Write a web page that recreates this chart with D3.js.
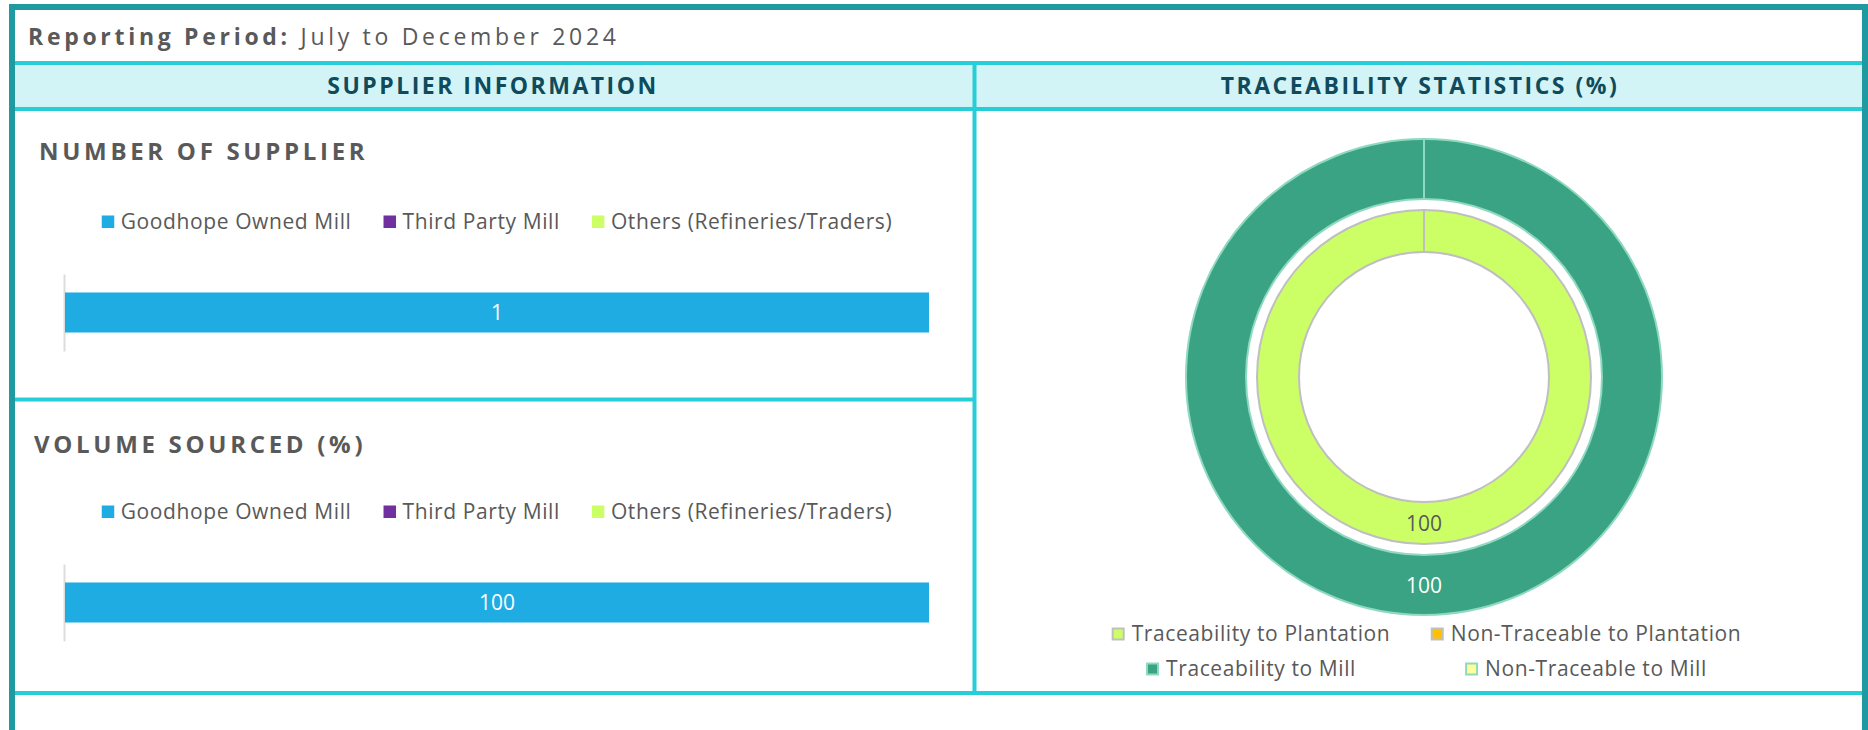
<!DOCTYPE html>
<html>
<head>
<meta charset="utf-8">
<script src="https://cdn.jsdelivr.net/npm/d3@7"></script>
<style>
  body { margin: 0; background: #fff; }
  svg { display: block; }
</style>
</head>
<body>
<div id="chart"></div>
<script>
// data
const reportingLabel = "Reporting Period:";
const reportingPeriod = "July to December 2024";
const sectionTitles = ["SUPPLIER INFORMATION", "TRACEABILITY STATISTICS (%)"];

const supplierCategories = ["Goodhope Owned Mill", "Third Party Mill", "Others (Refineries/Traders)"];
const supplierColors = ["#1eace2", "#7030a0", "#ccff66"];
const numberOfSupplier = [1, 0, 0];
const volumeSourced = [100, 0, 0];

const plantationLabels = ["Traceability to Plantation", "Non-Traceable to Plantation"];
const plantationValues = [100, 0];
const plantationColors = ["#ccff66", "#ffc000"];
const millLabels = ["Traceability to Mill", "Non-Traceable to Mill"];
const millValues = [100, 0];
const millColors = ["#3aa384", "#ffff99"];

const W = 1868, H = 730;
const cyan = "#27cdd7", textGray = "#595959";
const font = "'Open Sans', sans-serif";
const legendFont = "21px", legendSpacing = "0.6px";

const svg = d3.select("#chart")
  .append("svg")
    .attr("width", W)
    .attr("height", H)
    .style("font-family", font);

// frame and section lines
svg.append("rect")
  .attr("x", 15).attr("y", 65).attr("width", 1847).attr("height", 42)
  .attr("fill", "#d2f4f6");

const lines = [
  [15, 63, 1862, 63],
  [15, 109, 1862, 109],
  [974.5, 61, 974.5, 695],
  [15, 399.5, 974, 399.5],
  [15, 693, 1862, 693]
];
svg.selectAll("line.frame")
  .data(lines)
  .join("line")
    .attr("class", "frame")
    .attr("x1", d => d[0]).attr("y1", d => d[1])
    .attr("x2", d => d[2]).attr("y2", d => d[3])
    .attr("stroke", cyan)
    .attr("stroke-width", 4);

svg.append("rect")
  .attr("x", 12).attr("y", 7).attr("width", 1853).attr("height", 800)
  .attr("fill", "none")
  .attr("stroke", "#1e9aa0")
  .attr("stroke-width", 6);

// reporting period
const rp = svg.append("text")
  .attr("x", 28).attr("y", 45)
  .style("font-size", "23px")
  .style("letter-spacing", "3.7px")
  .attr("fill", textGray);
rp.append("tspan").style("font-weight", 700).text(reportingLabel);
rp.append("tspan").text(" " + reportingPeriod);

// section headers
svg.selectAll("text.section")
  .data(sectionTitles)
  .join("text")
    .attr("class", "section")
    .attr("x", (d, i) => i === 0 ? 493 : 1420)
    .attr("y", 94)
    .attr("text-anchor", "middle")
    .style("font-size", "23px")
    .style("font-weight", 700)
    .style("letter-spacing", "2.5px")
    .attr("fill", "#0f4b5c")
    .text(d => d);

// legend row laid out left to right, centred on cx
function legendRow(g, labels, fills, cx, y, gap) {
  const items = g.selectAll(null)
    .data(labels)
    .join("g");
  items.append("rect")
    .attr("width", 12.5).attr("height", 12.5)
    .attr("y", -13)
    .attr("fill", (d, i) => fills[i]);
  items.append("text")
    .attr("x", 19)
    .style("font-size", legendFont)
    .style("letter-spacing", legendSpacing)
    .attr("fill", textGray)
    .text(d => d);
  const widths = [];
  items.each(function() { widths.push(19 + d3.select(this).select("text").node().getComputedTextLength()); });
  const total = d3.sum(widths) + gap * (widths.length - 1);
  let xPos = cx - total / 2;
  items.attr("transform", (d, i) => {
    const t = `translate(${xPos},${y})`;
    xPos += widths[i] + gap;
    return t;
  });
}

// horizontal stacked bar panel
function barPanel(top, title, titleX, titleY, values) {
  const g = svg.append("g");

  g.append("text")
    .attr("x", titleX).attr("y", titleY)
    .style("font-size", "24px")
    .style("font-weight", 700)
    .style("letter-spacing", "3.7px")
    .attr("fill", textGray)
    .text(title);

  const row = {};
  supplierCategories.forEach((c, i) => row[c] = values[i]);
  const series = d3.stack().keys(supplierCategories)([row]);

  const x = d3.scaleLinear()
    .domain([0, d3.sum(values)])
    .range([65, 929]);
  const y = d3.scaleBand()
    .domain(["all"])
    .range([top + 163, top + 240])
    .padding(0.316);

  legendRow(g, supplierCategories, supplierColors, (x.range()[0] + x.range()[1]) / 2, top + 117.5, 32);

  g.append("g")
    .attr("transform", `translate(${x(0) - 1},0)`)
    .call(d3.axisLeft(y).tickSize(0).tickFormat(""))
    .call(a => a.select(".domain").attr("stroke", "#dcdcdc").attr("stroke-width", 2));

  g.selectAll("rect.bar")
    .data(series)
    .join("rect")
      .attr("class", "bar")
      .attr("x", d => x(d[0][0]))
      .attr("width", d => x(d[0][1]) - x(d[0][0]))
      .attr("y", y("all"))
      .attr("height", y.bandwidth())
      .attr("fill", (d, i) => supplierColors[i]);

  g.selectAll("text.val")
    .data(series.filter(s => s[0][1] - s[0][0] > 0))
    .join("text")
      .attr("class", "val")
      .attr("x", d => (x(d[0][0]) + x(d[0][1])) / 2)
      .attr("y", y("all") + y.bandwidth() / 2 + 7.5)
      .attr("text-anchor", "middle")
      .style("font-size", "21px")
      .attr("fill", "#fff")
      .text(d => d[0][1] - d[0][0]);
}

barPanel(111, "NUMBER OF SUPPLIER", 39, 160, numberOfSupplier);
barPanel(401, "VOLUME SOURCED (%)", 34, 453, volumeSourced);

// traceability doughnut
const cx = 1424, cy = 377;
const donut = svg.append("g").attr("transform", `translate(${cx},${cy})`);
const pie = d3.pie().sort(null).value(d => d);

const rings = [
  {values: millValues, colors: millColors, stroke: "#8ed9bf", r0: 178, r1: 238, labelFill: "#fff"},
  {values: plantationValues, colors: plantationColors, stroke: "#bfbfbf", r0: 125, r1: 167, labelFill: textGray}
];

rings.forEach(ring => {
  const arc = d3.arc().innerRadius(ring.r0).outerRadius(ring.r1);
  const arcs = pie(ring.values);
  donut.append("g")
    .selectAll("path")
    .data(arcs)
    .join("path")
      .attr("d", arc)
      .attr("fill", (d, i) => ring.colors[i])
      .attr("stroke", ring.stroke)
      .attr("stroke-width", 2);
  donut.append("g")
    .selectAll("text")
    .data(arcs.filter(d => d.value > 0))
    .join("text")
      .attr("transform", d => `translate(${arc.centroid(d)})`)
      .attr("dy", 7.5)
      .attr("text-anchor", "middle")
      .style("font-size", "21px")
      .attr("fill", ring.labelFill)
      .text(d => d.value);
});

// doughnut legend: two columns, items centred in each column
const legendCols = d3.scaleBand().domain([0, 1]).range([1084, 1754]);
const legendRows = [
  {labels: plantationLabels, fills: plantationColors, stroke: "#bfbfbf", y: 641},
  {labels: millLabels, fills: millColors, stroke: "#8ed9bf", y: 676}
];
legendRows.forEach(r => {
  const items = svg.append("g")
    .selectAll("g")
    .data(r.labels)
    .join("g");
  items.append("rect")
    .attr("width", 11).attr("height", 11)
    .attr("y", -12.5)
    .attr("fill", (d, i) => r.fills[i])
    .attr("stroke", r.stroke)
    .attr("stroke-width", 2);
  items.append("text")
    .attr("x", 19)
    .style("font-size", legendFont)
    .style("letter-spacing", legendSpacing)
    .attr("fill", textGray)
    .text(d => d);
  items.attr("transform", function(d, i) {
    const w = 19 + d3.select(this).select("text").node().getComputedTextLength();
    const c = legendCols(i) + legendCols.bandwidth() / 2;
    return `translate(${c - w / 2},${r.y})`;
  });
});
</script>
</body>
</html>
